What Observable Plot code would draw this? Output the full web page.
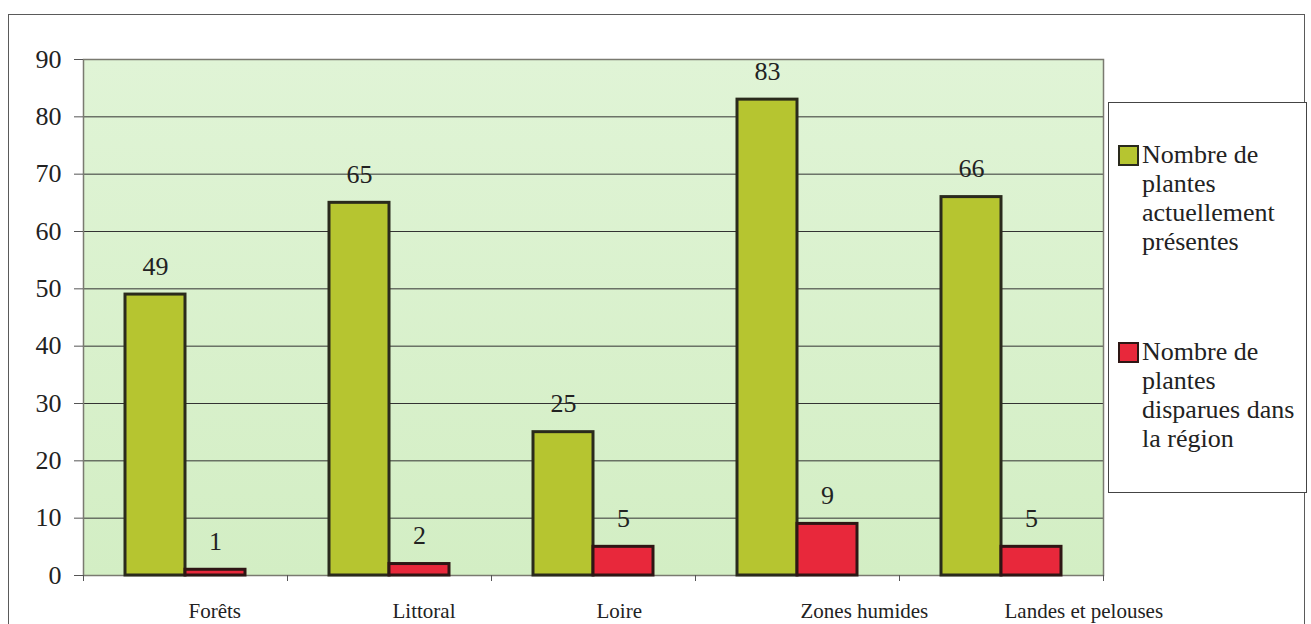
<!DOCTYPE html>
<html>
<head>
<meta charset="utf-8">
<script src="https://cdn.jsdelivr.net/npm/d3@7"></script>
<script src="https://cdn.jsdelivr.net/npm/@observablehq/plot@0.6"></script>
<style>
  html, body { margin: 0; padding: 0; background: #fff; overflow: hidden; }
  #wrap { position: relative; width: 1311px; height: 624px; font-family: "Liberation Serif", "LiberationSerif", "Times New Roman", Tinos, "DejaVu Serif", serif; color: #222; }
  #border { position: absolute; left: 8px; top: 14px; width: 1297px; height: 700px; border: 1px solid #5a5a5a; box-sizing: border-box; }
  #legend { position: absolute; left: 1108px; top: 102px; width: 199px; height: 391px; border: 1px solid #444; box-sizing: border-box; background: #fff; }
  .sw { position: absolute; width: 21px; height: 21px; box-sizing: border-box; border: 2px solid #2a2a1e; }
  .lt { position: absolute; font-size: 26px; line-height: 29px; white-space: nowrap; color: #222; }
  svg { position: absolute; left: 0; top: 0; }
  svg text { font-family: "Liberation Serif", "LiberationSerif", "Times New Roman", Tinos, "DejaVu Serif", serif !important; }
</style>
</head>
<body>
<div id="wrap">
  <div id="border"></div>
  <div id="chart"></div>
  <div id="legend"></div>
</div>
<script>
// Plant counts by habitat type
const categories = ["Forêts", "Littoral", "Loire", "Zones humides", "Landes et pelouses"];
const presentes = [49, 65, 25, 83, 66];
const disparues = [1, 2, 5, 9, 5];
const yTicks = [0, 10, 20, 30, 40, 50, 60, 70, 80, 90];

const colors = { presentes: "#b6c530", disparues: "#e8283b" };
const serif = `"Liberation Serif", "LiberationSerif", "Times New Roman", Tinos, "DejaVu Serif", serif`;

const W = 1311, H = 624;
const mL = 83, mR = 208, mT = 59, mB = 49;
const band = (W - mL - mR) / categories.length;
const barW = 60;

const rowsP = categories.map((c, i) => ({ cat: c, value: presentes[i] }));
const rowsD = categories.map((c, i) => ({ cat: c, value: disparues[i] }));

const chart = Plot.plot({
  width: W,
  height: H,
  marginLeft: mL,
  marginRight: mR,
  marginTop: mT,
  marginBottom: mB,
  style: { fontFamily: serif, background: "transparent", color: "#222" },
  x: { domain: categories, padding: 0, axis: null, label: null },
  y: { domain: [0, 90], axis: null, label: null },
  marks: [
    Plot.frame({ fill: "url(#plotbg)", stroke: "none" }),
    Plot.gridY({ ticks: yTicks.filter(t => t > 0 && t < 90), stroke: "#333", strokeOpacity: 1, strokeWidth: 1 }),
    Plot.frame({ stroke: "#7a7a70", strokeWidth: 1.5 }),
    // present plants
    Plot.barY(rowsP, {
      x: "cat", y: "value",
      insetLeft: band / 2 - barW, insetRight: band / 2,
      fill: colors.presentes, stroke: "#2a2a1c", strokeWidth: 3
    }),
    // vanished plants
    Plot.barY(rowsD, {
      x: "cat", y: "value",
      insetLeft: band / 2, insetRight: band / 2 - barW,
      fill: colors.disparues, stroke: "#2e1614", strokeWidth: 3
    }),
    // value labels
    Plot.text(rowsP, { x: "cat", y: "value", text: d => String(d.value), dx: -barW / 2, dy: -20, lineAnchor: "bottom", fontSize: 26, fill: "#222" }),
    Plot.text(rowsD, { x: "cat", y: "value", text: d => String(d.value), dx: barW / 2, dy: -20, lineAnchor: "bottom", fontSize: 26, fill: "#222" }),
    // y axis
    Plot.axisY({ ticks: yTicks, tickSize: 9, tickPadding: 13, fontSize: 26, stroke: "#555", fill: "#222", label: null }),
    // x axis ticks at category boundaries
    Plot.axisX({ ticks: categories, tickSize: 6, dx: -band / 2, tickFormat: () => "", stroke: "#555", label: null }),
    Plot.axisX({ ticks: categories.slice(-1), tickSize: 6, dx: band / 2, tickFormat: () => "", stroke: "#555", label: null }),
    // category labels
    Plot.text(categories, { x: d => d, frameAnchor: "bottom", dx: 3, dy: 42, textAnchor: "start", lineAnchor: "bottom", fontSize: 21, fill: "#222" })
  ]
});

// soft green gradient behind the plot area
const defs = document.createElementNS("http://www.w3.org/2000/svg", "defs");
defs.innerHTML = `<linearGradient id="plotbg" x1="0" y1="0" x2="0" y2="1">
  <stop offset="0" stop-color="#e0f4d6"/><stop offset="1" stop-color="#d3eec4"/></linearGradient>`;
chart.insertBefore(defs, chart.firstChild);
document.getElementById("chart").appendChild(chart);

// legend
const legend = document.getElementById("legend");
const items = [
  { color: colors.presentes, border: "#2a2a1c", lines: ["Nombre de", "plantes", "actuellement", "présentes"], top: 140 },
  { color: colors.disparues, border: "#2e1614", lines: ["Nombre de", "plantes", "disparues dans", "la région"], top: 337 }
];
const boxLeft = 1108, boxTop = 102;
for (const it of items) {
  const sw = document.createElement("div");
  sw.className = "sw";
  sw.style.background = it.color;
  sw.style.borderColor = it.border;
  sw.style.left = (1118 - boxLeft - 1) + "px";
  sw.style.top = (it.top + 5 - boxTop - 1) + "px";
  legend.appendChild(sw);
  const tx = document.createElement("div");
  tx.className = "lt";
  tx.style.left = (1142 - boxLeft - 1) + "px";
  tx.style.top = (it.top - boxTop - 1) + "px";
  tx.innerHTML = it.lines.join("<br>");
  legend.appendChild(tx);
}
</script>
</body>
</html>
